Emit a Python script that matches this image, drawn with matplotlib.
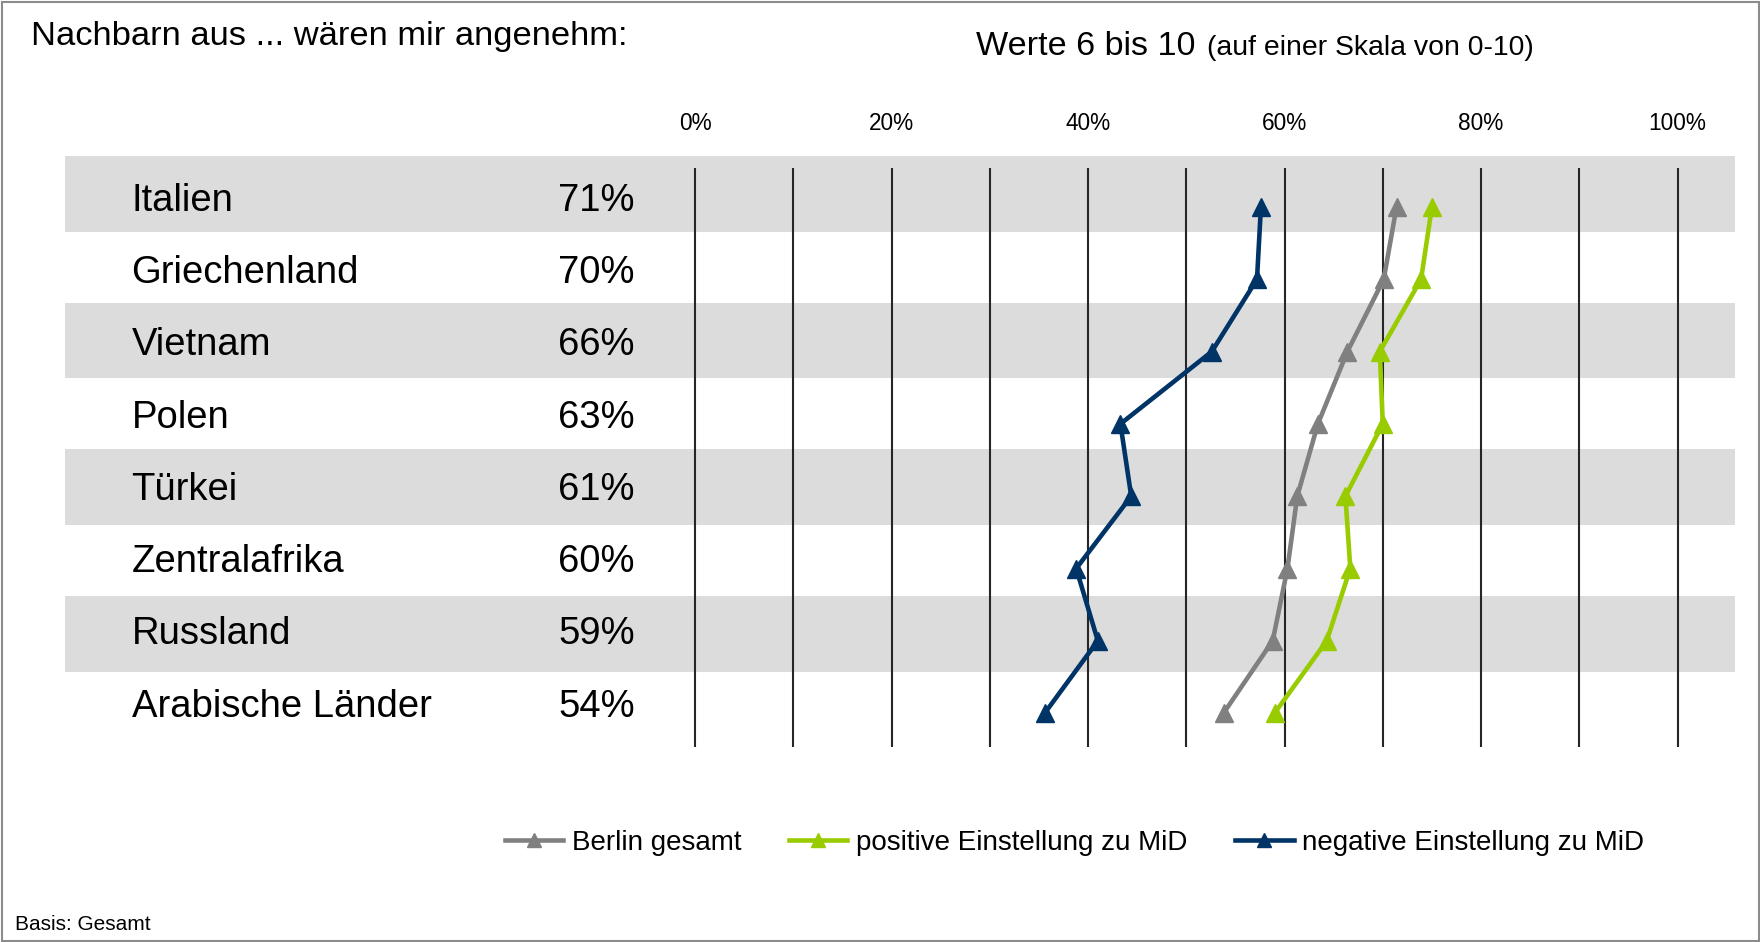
import matplotlib.pyplot as plt
from matplotlib.patches import Rectangle

countries = ['Italien', 'Griechenland', 'Vietnam', 'Polen', 'Türkei',
             'Zentralafrika', 'Russland', 'Arabische Länder']
berlin = [71.4, 70.1, 66.4, 63.4, 61.3, 60.3, 58.8, 53.8]
positive = [75.0, 73.9, 69.7, 70.0, 66.2, 66.7, 64.3, 59.0]
negative = [57.6, 57.2, 52.6, 43.3, 44.4, 38.8, 41.0, 35.6]
ticks = [0, 20, 40, 60, 80, 100]

GRAY = '#808080'
GREEN = '#99cc00'
NAVY = '#003366'
BAND = '#dcdcdc'
REG = ['Liberation Sans', 'DejaVu Sans']

W, H = 1760, 942
fig = plt.figure(figsize=(W / 100, H / 100), dpi=100)

# pixel layout of the reference
x0_px, x100_px = 695, 1677.5
row0_px, row_step = 207, 72.3
ax_left, ax_right, ax_top, ax_bot = 65, 1735, 150, 760


def px2x(px):
    return (px - x0_px) / (x100_px - x0_px) * 100


def px2row(py):
    return (py - row0_px) / row_step


ax = fig.add_axes([ax_left / W, 1 - ax_bot / H, (ax_right - ax_left) / W, (ax_bot - ax_top) / H])
ax.set_xlim(px2x(ax_left), px2x(ax_right))
ax.set_ylim(px2row(ax_bot), px2row(ax_top))
for s in ax.spines.values():
    s.set_visible(False)
ax.set_yticks([])

# grey bands on every second row
for k in range(0, len(countries), 2):
    top = 156 + 73.3 * k
    ax.axhspan(px2row(top), px2row(top + 75.7), color=BAND, lw=0, zorder=0)

# vertical grid lines
ax.vlines(range(0, 101, 10), px2row(168), px2row(747), color='#262626', lw=1.5, zorder=1)

ax.set_xticks(ticks)
ax.set_xticklabels([f'{t}%' for t in ticks], family=REG, fontsize=16.3)
ax.tick_params(top=True, labeltop=True, bottom=False, labelbottom=False, length=0, pad=11)

rows = list(range(len(countries)))
ax.plot(berlin, rows, color=GRAY, lw=3.3, marker='^', ms=13, zorder=3, label='Berlin gesamt')
ax.plot(positive, rows, color=GREEN, lw=3.3, marker='^', ms=13, zorder=3,
        label='positive Einstellung zu MiD')
ax.plot(negative, rows, color=NAVY, lw=3.3, marker='^', ms=13, zorder=3,
        label='negative Einstellung zu MiD')

for r, (name, v) in enumerate(zip(countries, berlin)):
    ax.text(px2x(131.5), r + 0.05, name, family=REG, fontsize=27.5, va='baseline', ha='left')
    ax.text(px2x(635), r + 0.05, f'{round(v)}%', family=REG, fontsize=27.5, va='baseline', ha='right')

fig.text(31 / W, 1 - 45 / H, 'Nachbarn aus ... wären mir angenehm:', family=REG,
         fontsize=24.8, va='baseline', ha='left')
fig.text(976 / W, 1 - 55 / H, 'Werte 6 bis 10', family=REG, fontsize=24.6, va='baseline', ha='left')
fig.text(1207 / W, 1 - 55 / H, '(auf einer Skala von 0-10)', family=REG, fontsize=20.4,
         va='baseline', ha='left')
fig.text(15 / W, 1 - 930 / H, 'Basis: Gesamt', family=REG, fontsize=15, va='baseline', ha='left')

fig.legend(loc='center', bbox_to_anchor=(1074.5 / W, 1 - 843 / H), ncol=3, frameon=False,
           prop={'family': REG, 'size': 20}, handlelength=2.09, handletextpad=0.32,
           columnspacing=1.73, markerscale=0.75, borderpad=0)

fig.patches.append(Rectangle((1.5 / W, 1.5 / H), 1 - 3 / W, 1 - 3 / H, transform=fig.transFigure,
                             fill=False, edgecolor='#8c8c8c', lw=1.5))

fig.savefig('out.png', dpi=100)
